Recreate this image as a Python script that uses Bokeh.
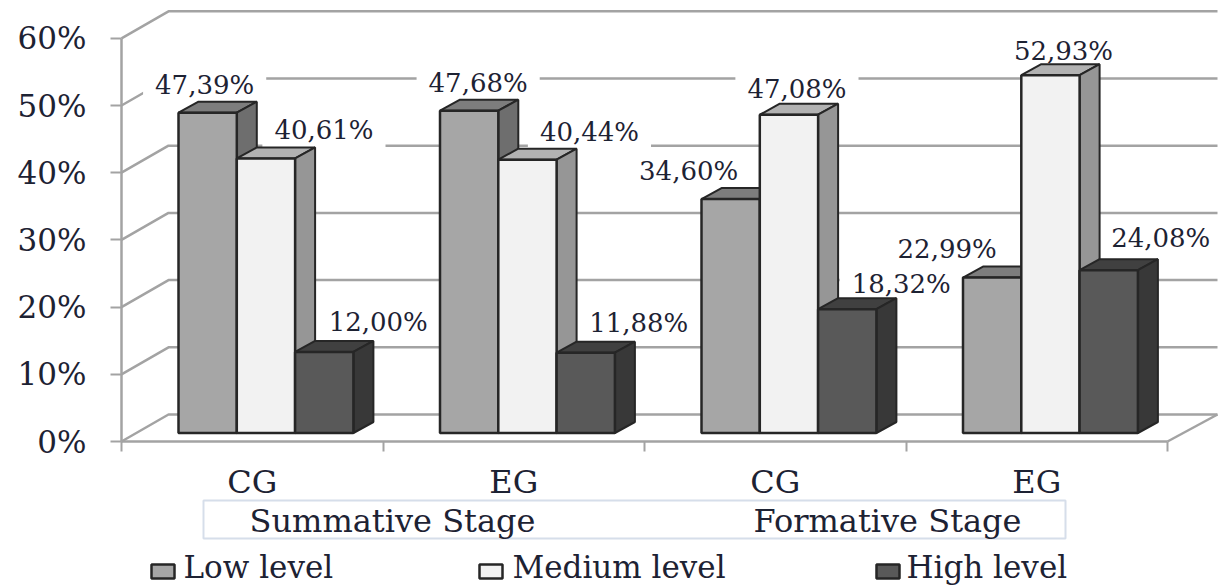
from bokeh.plotting import figure
from bokeh.models import ColumnDataSource, FixedTicker
from bokeh.core.properties import value
from bokeh.embed import file_html
from bokeh.resources import INLINE

# ---- data ----
categories = ["CG", "EG", "CG", "EG"]
stages = ["Summative Stage", "Formative Stage"]
series_names = ["Low level", "Medium level", "High level"]
low = [47.39, 47.68, 34.60, 22.99]
medium = [40.61, 40.44, 47.08, 52.93]
high = [12.00, 11.88, 18.32, 24.08]
y_ticks = [0, 10, 20, 30, 40, 50, 60]

# ---- style / layout ----
W, H = 1221, 587
PX_X, PX_Y = 261.5, 6.72       # pixels per category, pixels per percent
X0_PX, Y0_PX = 121, 441        # reference pixel of the origin
def dx(px): return (px - X0_PX) / PX_X
def dy(py): return (Y0_PX - py) / PX_Y

SERIF = value("DejaVu Serif")
INK = "#1d2233"
GRID = "#a3a3a3"
EDGE = "#262626"
front = ["#a6a6a6", "#f2f2f2", "#595959"]
side = ["#6e6e6e", "#969696", "#383838"]
top = ["#7d7d7d", "#b2b2b2", "#404040"]

BAR_W = 58.3 / PX_X
BAR_START = (178 - X0_PX) / PX_X
DEPTH_X, DEPTH_Y = 20 / PX_X, 11 / PX_Y
BASE = (Y0_PX - 432.5) / PX_Y
SCALE = 6.76 / PX_Y
WALL_X, WALL_Y = 47 / PX_X, 27 / PX_Y
X_END = dx(1217)

# pixel offsets of value labels relative to the bar's top centre
label_dx = [[-3, 9, -42, -45], [58, 62, 8, 13], [54, 53, 54, 52]]
label_dy = [[-28, -28, -28, -29], [-28, -28, -26, -24], [-30, -30, -25, -32]]

p = figure(width=W, height=H, output_backend="svg", toolbar_location=None,
           x_range=(dx(0), dx(W)), y_range=(dy(H), dy(0)),
           min_border=0, min_border_left=0, min_border_right=0,
           min_border_top=0, min_border_bottom=0, outline_line_color=None)
p.grid.visible = False

# axes
ya = p.yaxis[0]
ya.fixed_location = 0
ya.bounds = (0, 60)
ya.ticker = FixedTicker(ticks=y_ticks)
ya.major_label_overrides = {t: f"{t}%" for t in y_ticks}
ya.axis_line_color = GRID
ya.axis_line_width = 2.5
ya.major_tick_line_color = GRID
ya.major_tick_line_width = 2
ya.major_tick_in = 0
ya.major_tick_out = 11
ya.minor_tick_line_color = None
ya.major_label_standoff = 24
ya.major_label_text_font = "DejaVu Serif"
ya.major_label_text_font_size = "31px"
ya.major_label_text_color = INK

xa = p.xaxis[0]
xa.fixed_location = 0
xa.bounds = (0, 4)
centers = [i + 0.5 for i in range(len(categories))]
xa.ticker = FixedTicker(ticks=centers, minor_ticks=list(range(len(categories) + 1)))
xa.major_label_overrides = {c: n for c, n in zip(centers, categories)}
xa.axis_line_color = GRID
xa.axis_line_width = 2.5
xa.major_tick_line_color = None
xa.major_tick_in = 0
xa.major_tick_out = 0
xa.minor_tick_line_color = GRID
xa.minor_tick_line_width = 2
xa.minor_tick_in = 0
xa.minor_tick_out = 10
xa.major_label_standoff = 11
xa.major_label_text_font = "DejaVu Serif"
xa.major_label_text_font_size = "32px"
xa.major_label_text_color = INK

# walls: back gridlines, diagonals on the side wall, floor edge
gx, gy = [], []
for t in y_ticks:
    gx.append([0, WALL_X, X_END])
    gy.append([t, t + WALL_Y, t + WALL_Y])
gx.append([4, X_END])
gy.append([0, WALL_Y])
p.multi_line(gx, gy, line_color=GRID, line_width=2.5)

# value labels (white box hides the gridlines behind them)
series = [low, medium, high]
lx, ly, lt, ox, oy = [], [], [], [], []
for s, vals in enumerate(series):
    for g, v in enumerate(vals):
        lx.append(g + BAR_START + BAR_W * (s + 0.5))
        ly.append(BASE + v * SCALE)
        lt.append(f"{v:.2f}%".replace(".", ","))
        ox.append(label_dx[s][g])
        oy.append(label_dy[s][g])
p.text(x="x", y="y", text="t", x_offset="ox", y_offset="oy",
       source=ColumnDataSource(dict(x=lx, y=ly, t=lt, ox=ox, oy=oy)),
       text_font=SERIF, text_font_size="26px", text_color=INK,
       text_align="center", text_baseline="middle",
       background_fill_color="white", padding=(12, 3))

# 3D bars
for s, vals in enumerate(series):
    lefts = [g + BAR_START + BAR_W * s for g in range(len(vals))]
    rights = [l + BAR_W for l in lefts]
    tops = [BASE + v * SCALE for v in vals]
    p.patches([[l, l + DEPTH_X, r + DEPTH_X, r] for l, r in zip(lefts, rights)],
              [[t, t + DEPTH_Y, t + DEPTH_Y, t] for t in tops],
              fill_color=top[s], line_color=EDGE, line_width=2)
    p.patches([[r, r + DEPTH_X, r + DEPTH_X, r] for r in rights],
              [[BASE, BASE + DEPTH_Y, t + DEPTH_Y, t] for t in tops],
              fill_color=side[s], line_color=EDGE, line_width=2)
    p.quad(left=lefts, right=rights, bottom=BASE, top=tops,
           fill_color=front[s], line_color=EDGE, line_width=2.5)

# stage box
p.quad(left=[dx(203)], right=[dx(1065)], bottom=[dy(538)], top=[dy(500)],
       fill_color="white", line_color="#d6deea", line_width=2)
p.text(x=[dx(392), dx(887)], y=[dy(520), dy(520)], text=stages,
       text_font=SERIF, text_font_size="32px", text_color=INK,
       text_align="center", text_baseline="middle")

# legend
sw_l = [151, 479, 876]
tx_l = [183, 512, 906]
p.quad(left=[dx(v) for v in sw_l], right=[dx(v + 23) for v in sw_l],
       bottom=[dy(578)] * 3, top=[dy(564)] * 3,
       fill_color=front, line_color=EDGE, line_width=2.5)
p.text(x=[dx(v) for v in tx_l], y=[dy(566)] * 3, text=series_names,
       text_font=SERIF, text_font_size="31px", text_color=INK,
       text_align="left", text_baseline="middle")

open("out.html", "w").write(file_html(p, INLINE))
